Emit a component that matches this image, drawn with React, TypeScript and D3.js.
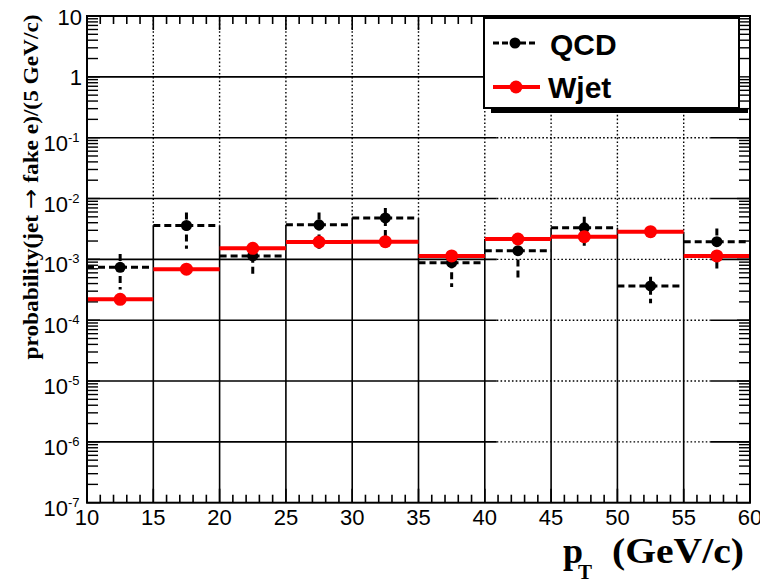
import React from "react";
import * as d3 from "d3";

const binLow = [10, 15, 20, 25, 30, 35, 40, 45, 50, 55];
const binWidth = 5;
const qcdValues = [7.4e-4, 3.6e-3, 1.14e-3, 3.7e-3, 4.8e-3, 8.8e-4, 1.39e-3, 3.3e-3, 3.65e-4, 1.95e-3];
const qcdErrUp = [4.9e-4, 2.3e-3, 6e-4, 2.2e-3, 2.2e-3, 5.3e-4, 9e-4, 1.7e-3, 1.55e-4, 1.25e-3];
const qcdErrDown = [4.2e-4, 2.1e-3, 6.2e-4, 2.2e-3, 3.4e-3, 5.3e-4, 9e-4, 1.8e-3, 1.75e-4, 1.26e-3];
const wjetValues = [2.2e-4, 6.9e-4, 1.52e-3, 1.93e-3, 1.95e-3, 1.14e-3, 2.16e-3, 2.36e-3, 2.85e-3, 1.14e-3];
const xTicks = [10, 15, 20, 25, 30, 35, 40, 45, 50, 55, 60];
const yExponents = [1, 0, -1, -2, -3, -4, -5, -6, -7];
const legendLabels = ["QCD", "Wjet"];

const W = 760, H = 581;
const L = 87, R = 750, T = 16, B = 502.7;

export default function App() {
  const x = d3.scaleLinear().domain([10, 60]).range([L, R]);
  const y = d3.scaleLog().domain([1e-7, 10]).range([B, T]);
  const red = "#ff0000";
  const sans = "'Liberation Sans', Arial, Helvetica, sans-serif";
  const serif = "'Liberation Serif', 'Times New Roman', serif";

  // horizontal grid
  const hGrid: JSX.Element[] = [];
  yExponents.forEach((e) => {
    if (e === 1 || e === -7) return;
    const yy = y(Math.pow(10, e));
    if (e === 0) {
      hGrid.push(<line key={"h" + e} x1={L} x2={x(40)} y1={yy} y2={yy} stroke="#000" strokeWidth={1.6} />);
      return;
    }
    hGrid.push(<line key={"ha" + e} x1={L} x2={x(40.9)} y1={yy} y2={yy} stroke="#000" strokeWidth={1.6} />);
    hGrid.push(<line key={"hb" + e} x1={x(40.9)} x2={x(57)} y1={yy} y2={yy} stroke="#000" strokeWidth={1.4} strokeDasharray="1.6,2.2" />);
    hGrid.push(<line key={"hc" + e} x1={x(57)} x2={R} y1={yy} y2={yy} stroke="#000" strokeWidth={1.6} />);
  });

  // vertical grid
  const vGrid: JSX.Element[] = [];
  xTicks.slice(1, -1).forEach((t, i) => {
    const vals = [qcdValues[i], qcdValues[i + 1], wjetValues[i], wjetValues[i + 1]];
    const top = y(d3.max(vals) as number);
    const xx = x(t);
    vGrid.push(<line key={"vd" + t} x1={xx} x2={xx} y1={T} y2={top} stroke="#000" strokeWidth={1.4} strokeDasharray="1.6,2.2" />);
    vGrid.push(<line key={"vs" + t} x1={xx} x2={xx} y1={top} y2={B} stroke="#000" strokeWidth={1.6} />);
  });

  // ticks
  const ticks: JSX.Element[] = [];
  for (let e = -7; e <= 0; e++) {
    for (let k = 1; k <= 9; k++) {
      const v = k * Math.pow(10, e);
      const yy = y(v);
      const len = k === 1 ? 13 : 11;
      ticks.push(<line key={`l${e}${k}`} x1={L} x2={L + len} y1={yy} y2={yy} stroke="#000" strokeWidth={1.4} />);
      ticks.push(<line key={`r${e}${k}`} x1={R} x2={R - len} y1={yy} y2={yy} stroke="#000" strokeWidth={1.4} />);
    }
  }
  for (let g = 10; g <= 60; g++) {
    const xx = x(g);
    const len = g % 5 === 0 ? 14 : 8;
    ticks.push(<line key={`t${g}`} x1={xx} x2={xx} y1={T} y2={T + len} stroke="#000" strokeWidth={1.6} />);
    ticks.push(<line key={`b${g}`} x1={xx} x2={xx} y1={B} y2={B - len} stroke="#000" strokeWidth={1.6} />);
  }

  return (
    <svg width={W} height={H} style={{ position: "absolute", left: 0, top: 0, background: "#fff" }}>
      <rect x={0} y={0} width={W} height={H} fill="#fff" />
      {hGrid}
      {vGrid}
      {ticks}
      {/* QCD */}
      {binLow.map((lo, i) => {
        const v = qcdValues[i];
        const cx = x(lo + binWidth / 2);
        return (
          <g key={"q" + i}>
            <line x1={x(lo)} x2={x(lo + binWidth)} y1={y(v)} y2={y(v)} stroke="#000" strokeWidth={3} strokeDasharray="7,4" />
            <line x1={cx} x2={cx} y1={y(v + qcdErrUp[i])} y2={y(v - qcdErrDown[i])} stroke="#000" strokeWidth={3} strokeDasharray="7,4" />
            <circle cx={cx} cy={y(v)} r={5.5} fill="#000" />
          </g>
        );
      })}
      {/* Wjet */}
      {binLow.map((lo, i) => {
        const v = wjetValues[i];
        const cx = x(lo + binWidth / 2);
        return (
          <g key={"w" + i}>
            <line x1={x(lo)} x2={x(lo + binWidth)} y1={y(v)} y2={y(v)} stroke={red} strokeWidth={4} />
            <circle cx={cx} cy={y(v)} r={6.5} fill={red} />
          </g>
        );
      })}
      {/* frame */}
      <rect x={L} y={T} width={R - L} height={B - T} fill="none" stroke="#000" strokeWidth={2} />
      {/* legend */}
      <rect x={491} y={108} width={257} height={5} fill="#000" />
      <rect x={484} y={18} width={255} height={90} fill="#fff" stroke="#000" strokeWidth={2} />
      <line x1={493} x2={537} y1={43} y2={43} stroke="#000" strokeWidth={3} strokeDasharray="6,3" />
      <circle cx={515} cy={43} r={5.5} fill="#000" />
      <text x={550} y={55} fontFamily={sans} fontWeight="bold" fontSize={30}>{legendLabels[0]}</text>
      <line x1={493} x2={540} y1={87} y2={87} stroke={red} strokeWidth={4} />
      <circle cx={516} cy={87} r={6.5} fill={red} />
      <text x={548} y={98} fontFamily={sans} fontWeight="bold" fontSize={30}>{legendLabels[1]}</text>
      {/* x tick labels */}
      {xTicks.map((t) => (
        <text key={"xl" + t} x={x(t)} y={525} textAnchor="middle" fontFamily={sans} fontSize={22}>{t}</text>
      ))}
      {/* y tick labels */}
      {yExponents.map((e) => {
        const yy = y(Math.pow(10, e));
        if (e === 1 || e === 0) {
          return <text key={"yl" + e} x={82} y={yy + 8.5} textAnchor="end" fontFamily={sans} fontSize={22}>{e === 1 ? "10" : "1"}</text>;
        }
        return (
          <g key={"yl" + e}>
            <text x={68} y={yy + 13} textAnchor="end" fontFamily={sans} fontSize={22}>10</text>
            <text x={68} y={yy + 4} textAnchor="start" fontFamily={sans} fontSize={13}>{String(e)}</text>
          </g>
        );
      })}
      {/* axis titles */}
      <text x={563} y={563} fontFamily={serif} fontWeight="bold" fontSize={36}>p</text>
      <text x={578} y={579} fontFamily={serif} fontWeight="bold" fontSize={21}>T</text>
      <text x={612} y={563} fontFamily={serif} fontWeight="bold" fontSize={36} textLength={132} lengthAdjust="spacingAndGlyphs">(GeV/c)</text>
      <text transform="translate(38,187) rotate(-90)" textAnchor="middle" fontFamily={serif} fontWeight="bold" fontSize={21} textLength={345} lengthAdjust="spacingAndGlyphs">
        probability(jet <tspan fontFamily="'DejaVu Sans', sans-serif" fontWeight="normal" fontSize={22}>→</tspan> fake e)/(5 GeV/c)
      </text>
    </svg>
  );
}
